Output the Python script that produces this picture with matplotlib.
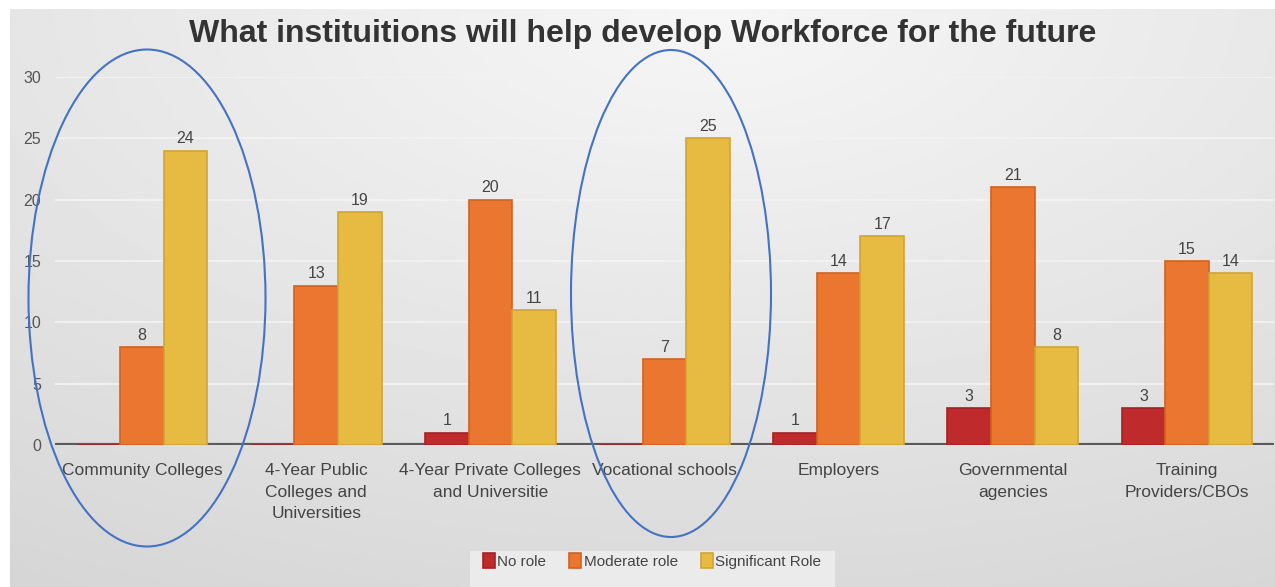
import numpy as np
import matplotlib.pyplot as plt
from matplotlib.patches import Ellipse, Rectangle

plt.rcParams['font.family'] = ['Liberation Sans', 'DejaVu Sans']

categories = ['Community Colleges', '4-Year Public\nColleges and\nUniversities',
              '4-Year Private Colleges\nand Universitie', 'Vocational schools',
              'Employers', 'Governmental\nagencies', 'Training\nProviders/CBOs']
no_role = [0, 0, 1, 0, 1, 3, 3]
moderate_role = [8, 13, 20, 7, 14, 21, 15]
significant_role = [24, 19, 11, 25, 17, 8, 14]
series_names = ['No role', 'Moderate role', 'Significant Role']
colors = ['#bf2a2c', '#ea762f', '#e7bb42']
edges = ['#a52225', '#d2621f', '#d0a535']

fig = plt.figure(figsize=(12.75, 5.87), dpi=100)
fig.patch.set_facecolor('white')

# soft gray gradient behind everything
bg = fig.add_axes([10 / 1275, 0, 1 - 10 / 1275, 1 - 9 / 587], zorder=-5)
yy, xx = np.mgrid[0:1:200j, 0:1:400j]
d = np.sqrt(((xx - 0.55) * 1.1) ** 2 + (yy * 1.0) ** 2)
grad = np.clip(0.965 - 0.11 * d, 0, 1)
bg.imshow(grad, cmap='gray', vmin=0, vmax=1, aspect='auto', extent=[0, 1, 1, 0])
bg.axis('off')

ax = fig.add_axes([55 / 1275, 1 - 445 / 587, 1219 / 1275, (445 - 77) / 587])
ax.set_facecolor('none')

x = np.arange(len(categories))
w = 0.25
series = [no_role, moderate_role, significant_role]
for i, vals in enumerate(series):
    pos = x + (i - 1) * w
    ax.bar(pos, vals, width=w, color=colors[i], edgecolor=edges[i],
           linewidth=1.2, label=series_names[i], zorder=3)
    for px, v in zip(pos, vals):
        if v > 0:
            ax.text(px, v + 0.35, str(v), ha='center', va='bottom',
                    fontsize=11.5, color='#444444', zorder=4)

ax.set_xlim(-0.5, len(categories) - 0.5)
ax.set_ylim(0, 30)
ax.set_yticks(range(0, 31, 5))
ax.set_yticklabels([str(t) for t in range(0, 31, 5)], color='#555555', fontsize=11.5)
ax.set_xticks(x)
ax.set_xticklabels(categories, color='#444444', fontsize=12.5, linespacing=1.55)
ax.tick_params(axis='both', length=0)
ax.tick_params(axis='y', pad=10)
ax.tick_params(axis='x', pad=13)
for s in ax.spines.values():
    s.set_visible(False)
ax.grid(axis='y', color='#f2f2f2', linewidth=1.3, zorder=0)
ax.axhline(0, color='#5a5a5a', linewidth=3, zorder=2)

fig.text(0.504, 1 - 34 / 587, 'What instituitions will help develop Workforce for the future',
         ha='center', va='center', fontsize=23, fontweight='bold', color='#333333')

# highlighted groups
fig.patches.append(Ellipse((147 / 1275, 1 - 298 / 587), 237 / 1275, 497 / 587,
                           transform=fig.transFigure, fill=False,
                           edgecolor='#4472c4', linewidth=1.5, zorder=10))
fig.patches.append(Ellipse((671 / 1275, 1 - 293.5 / 587), 200 / 1275, 487 / 587,
                           transform=fig.transFigure, fill=False,
                           edgecolor='#4472c4', linewidth=1.5, zorder=10))

# legend strip
fig.patches.append(Rectangle((470 / 1275, 0), 365 / 1275, 36 / 587,
                             transform=fig.transFigure, facecolor='#ebebeb',
                             edgecolor='none', zorder=1))
leg = fig.legend(loc='center', bbox_to_anchor=(652 / 1275, 1 - 561 / 587), ncol=3,
                 frameon=False, fontsize=11, handlelength=0.8, handleheight=1.1,
                 handletextpad=0.15, columnspacing=1.5, borderpad=0.2)
for t in leg.get_texts():
    t.set_color('#444444')

fig.savefig('out.png', dpi=100)
